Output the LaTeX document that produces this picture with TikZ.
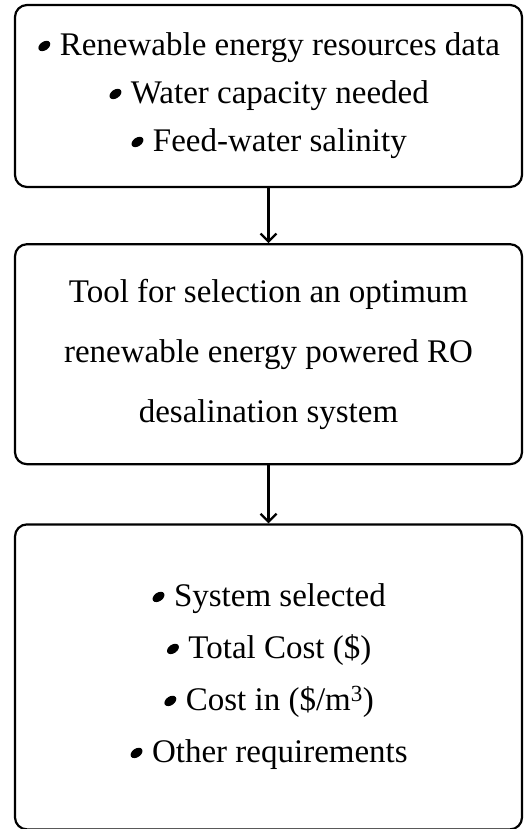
\documentclass[tikz,border=0pt]{standalone}
\usepackage{fontspec}
\setmainfont{Liberation Serif}
\usetikzlibrary{positioning,arrows.meta}

\newcommand{\listdot}{\tikz[baseline=0pt]{\useasboundingbox (-0.22em,0) rectangle (0.22em,0.5em);
  \fill[rotate around={35:(0,0.3em)}] (0,0.3em) ellipse (0.2em and 0.13em);}\ }

\tikzset{
  flowbox/.style={draw, line width=2.2pt, rounded corners=12pt, align=center,
    minimum width=507pt, inner sep=0pt, font=\fontsize{33}{48}\selectfont},
  flowarrow/.style={->, line width=2.2pt}
}

\begin{document}
\begin{tikzpicture}[>={Straight Barb[length=8pt,width=16pt,line width=2.2pt]}]
  \useasboundingbox (0,0) rectangle (528pt,-829pt);

  \node[flowbox, minimum height=182pt] (inputs) at (268.5pt,-96pt)
    {\listdot Renewable energy resources data\\
     \listdot Water capacity needed\\
     \listdot Feed-water salinity};

  \node[flowbox, minimum height=220pt, below=55pt of inputs,
    font=\fontsize{33}{60}\selectfont] (tool)
    {Tool for selection an optimum\\
     renewable energy powered RO\\
     desalination system};

  \node[flowbox, minimum height=305pt, below=58pt of tool,
    font=\fontsize{33}{52}\selectfont] (outputs)
    {\listdot System selected\\
     \listdot Total Cost (\$)\\
     \listdot Cost in (\$/m\textsuperscript{3})\\
     \listdot Other requirements};

  \draw[flowarrow] (inputs) -- (tool);
  \draw[flowarrow] (tool) -- (outputs);
\end{tikzpicture}
\end{document}
